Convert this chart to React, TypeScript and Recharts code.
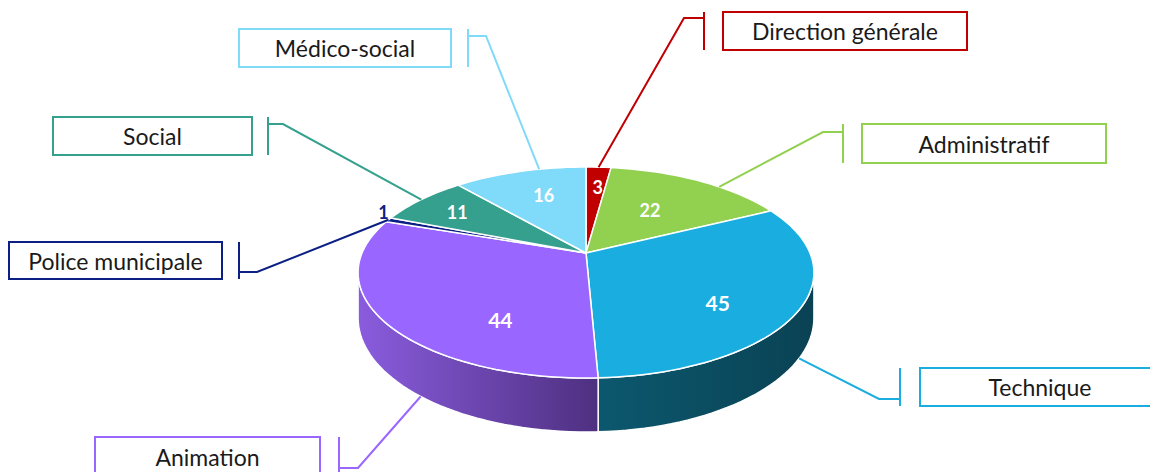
import { PieChart, Pie, Cell } from "recharts";

const services = [
    "Direction générale",
    "Administratif",
    "Technique",
    "Animation",
    "Police municipale",
    "Social",
    "Médico-social",
];
const effectifs = [3, 22, 45, 44, 1, 11, 16];

const colors = ["#C00000", "#92D050", "#19ADE0", "#9966FF", "#0C1F84", "#35A08E", "#80DAF9"];
const sideColors = [
    ["#8a0000", "#600000"],
    ["#6a9a38", "#4d7028"],
    ["#0C586E", "#0A4254"],
    ["#8A5CDE", "#4E3080"],
    ["#0a1a6a", "#06104a"],
    ["#287a6c", "#1c564c"],
    ["#5fa9c4", "#3f7d94"],
];

const data = services.map((name, i) => ({ name, value: effectifs[i] }));

// disque vu en perspective
const TILT = 0.455;
const PERSP = 0.1848;
const DEPTH = 44;
const FRONT_EDGE = (Math.asin(PERSP) * 180) / Math.PI;

function project(cx: number, cy: number, r: number, angle: number, k = 1, drop = 0) {
    const rad = (angle * Math.PI) / 180;
    const u = k * Math.cos(rad);
    const v = -k * Math.sin(rad);
    const w = 1 - PERSP * v;
    return {
        x: cx + (r * u) / w,
        y: cy + (r * TILT * v) / w + drop / w,
        v,
    };
}

function arcPoints(cx: number, cy: number, r: number, from: number, to: number, drop = 0) {
    const n = Math.max(2, Math.ceil(Math.abs(to - from) / 2));
    const pts: string[] = [];
    for (let i = 0; i <= n; i++) {
        const a = from + ((to - from) * i) / n;
        const p = project(cx, cy, r, a, 1, drop);
        pts.push(`${p.x.toFixed(2)},${p.y.toFixed(2)}`);
    }
    return pts;
}

function TopSlice(props: any) {
    const { cx, cy, outerRadius, startAngle, endAngle, fill } = props;
    const pts = arcPoints(cx, cy, outerRadius, startAngle, endAngle);
    const d = `M${cx},${cy} L${pts.join(" L")} Z`;
    return <path d={d} fill={fill} stroke="#ffffff" strokeWidth={1.5} strokeLinejoin="round" />;
}

function SideSlice(props: any) {
    const { cx, cy, outerRadius, startAngle, endAngle, fill } = props;
    const hi = Math.min(Math.max(startAngle, endAngle), -FRONT_EDGE);
    const lo = Math.max(Math.min(startAngle, endAngle), -180 + FRONT_EDGE);
    if (lo >= hi) return <g />;
    const top = arcPoints(cx, cy, outerRadius, hi, lo);
    const bottom = arcPoints(cx, cy, outerRadius, lo, hi, DEPTH);
    const d = `M${top.join(" L")} L${bottom.join(" L")} Z`;
    return <path d={d} fill={fill} stroke="#ffffff" strokeWidth={1.5} strokeLinejoin="round" />;
}

// mise en page des étiquettes
const boxes = [
    { x: 723, y: 12, w: 244, h: 38, tick: 704, knee: [684, 18], shift: 0 },
    { x: 862, y: 124, w: 244, h: 39, tick: 843, knee: [823, 132], shift: -7 },
    { x: 920, y: 368, w: 240, h: 38, tick: 900, knee: [879, 399], shift: 0 },
    { x: 95, y: 437, w: 225, h: 40, tick: 339, knee: [358, 468], shift: 14 },
    { x: 9, y: 242, w: 213, h: 37, tick: 239, knee: [257, 272], shift: 0 },
    { x: 53, y: 117, w: 199, h: 38, tick: 268, knee: [283, 124], shift: 0 },
    { x: 239, y: 29, w: 212, h: 38, tick: 468, knee: [486, 36], shift: -6 },
];
const valueNudge = [
    [3, -7],
    [-13, 6],
    [-2, 14],
    [40, 24],
    [-5, -8],
    [-18, -5],
    [3, -2],
];

function renderLabel(props: any) {
    const { cx, cy, outerRadius, midAngle, index, value } = props;
    const b = boxes[index];
    const color = colors[index];
    const a = midAngle + b.shift;
    let anchor = project(cx, cy, outerRadius, a);
    if (anchor.v > PERSP) anchor = project(cx, cy, outerRadius, a, 1, DEPTH);
    const outside = value < 2;
    const vp = project(cx, cy, outerRadius, midAngle, outside ? 1 : 0.65);
    const [nx, ny] = valueNudge[index];
    return (
        <g>
            <polyline
                points={`${anchor.x},${anchor.y} ${b.knee[0]},${b.knee[1]} ${b.tick},${b.knee[1]}`}
                fill="none"
                stroke={color}
                strokeWidth={2}
            />
            <line x1={b.tick} y1={b.y} x2={b.tick} y2={b.y + b.h} stroke={color} strokeWidth={2} />
            <rect x={b.x} y={b.y} width={b.w} height={b.h} fill="#ffffff" stroke={color} strokeWidth={2} />
            <text
                x={b.x + b.w / 2}
                y={b.y + b.h / 2}
                textAnchor="middle"
                dominantBaseline="central"
                fontFamily="Lato"
                fontSize={23}
                fill="#1a1a1a"
            >
                {services[index]}
            </text>
            <text
                x={vp.x + nx}
                y={vp.y + ny}
                textAnchor="middle"
                dominantBaseline="central"
                fontFamily="Lato"
                fontWeight="bold"
                fontSize={value >= 40 ? 21 : 18}
                fill={outside ? color : "#ffffff"}
            >
                {value}
            </text>
        </g>
    );
}

export default function App() {
    return (
        <div style={{ position: "absolute", left: 0, top: 0, width: 1150, height: 472, background: "#ffffff" }}>
            <svg width={0} height={0} style={{ position: "absolute" }}>
                <defs>
                    {sideColors.map(([from, to], i) => (
                        <linearGradient key={i} id={`side-${i}`} x1="0" y1="0" x2="1" y2="0">
                            <stop offset="0%" stopColor={from} />
                            <stop offset="100%" stopColor={to} />
                        </linearGradient>
                    ))}
                </defs>
            </svg>
            <PieChart width={1150} height={472} margin={{ top: 0, right: 0, bottom: 0, left: 0 }}>
                <Pie
                    data={data}
                    dataKey="value"
                    nameKey="name"
                    cx={586}
                    cy={253}
                    outerRadius={224}
                    startAngle={90}
                    endAngle={-270}
                    stroke="none"
                    shape={SideSlice}
                    inactiveShape={SideSlice}
                    activeShape={SideSlice}
                    isAnimationActive={false}
                >
                    {data.map((_, i) => (
                        <Cell key={i} fill={`url(#side-${i})`} />
                    ))}
                </Pie>
                <Pie
                    data={data}
                    dataKey="value"
                    nameKey="name"
                    cx={586}
                    cy={253}
                    outerRadius={224}
                    startAngle={90}
                    endAngle={-270}
                    stroke="none"
                    shape={TopSlice}
                    inactiveShape={TopSlice}
                    activeShape={TopSlice}
                    label={renderLabel}
                    labelLine={false}
                    isAnimationActive={false}
                >
                    {data.map((_, i) => (
                        <Cell key={i} fill={colors[i]} />
                    ))}
                </Pie>
            </PieChart>
        </div>
    );
}
